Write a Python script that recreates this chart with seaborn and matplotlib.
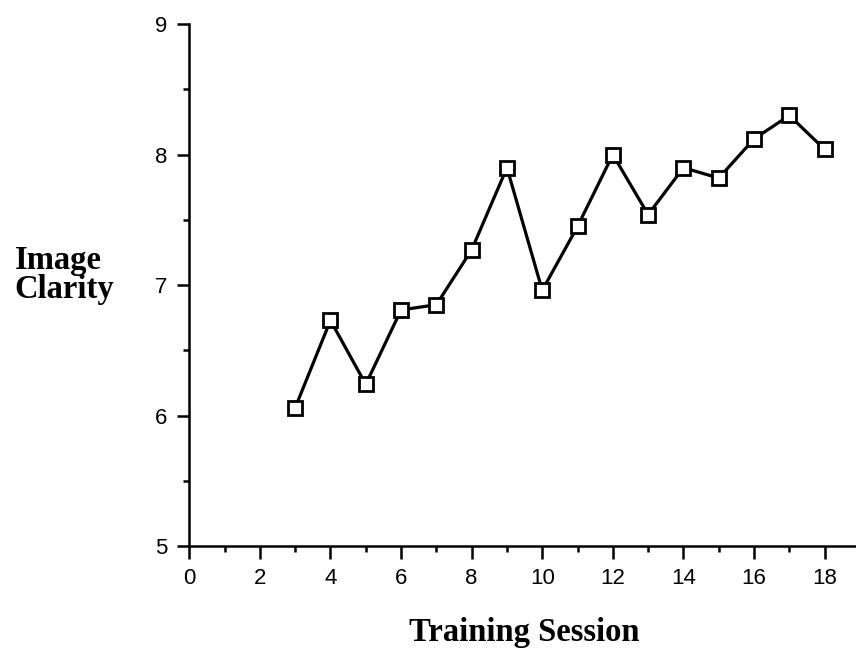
import matplotlib
matplotlib.use("Agg")
import matplotlib.pyplot as plt
import seaborn as sns
import pandas as pd
from matplotlib.ticker import MultipleLocator

# values
sessions = [3, 4, 5, 6, 7, 8, 9, 10, 11, 12, 13, 14, 15, 16, 17, 18]
clarity = [6.06, 6.73, 6.24, 6.81, 6.85, 7.27, 7.90, 6.96, 7.45, 8.00,
           7.54, 7.90, 7.82, 8.12, 8.30, 8.04]

df = pd.DataFrame({"Session": sessions, "Clarity": clarity})

sns.set_theme(style="ticks")
plt.rcParams["font.family"] = ["Liberation Sans", "DejaVu Sans"]
plt.rcParams["text.color"] = "black"
plt.rcParams["axes.labelcolor"] = "black"

fig = plt.figure(figsize=(8.56, 6.51), dpi=100)
ax = fig.add_axes([0.2211, 0.161, 0.7835, 0.802])

sns.lineplot(data=df, x="Session", y="Clarity", ax=ax, color="black",
             linewidth=2.3, marker="s", markersize=10, markerfacecolor="white",
             markeredgecolor="black", markeredgewidth=2.0)

ax.set_xlim(0, 19)
ax.set_ylim(5, 9)
ax.xaxis.set_major_locator(MultipleLocator(2))
ax.xaxis.set_minor_locator(MultipleLocator(1))
ax.yaxis.set_major_locator(MultipleLocator(1))
ax.yaxis.set_minor_locator(MultipleLocator(0.5))
ax.set_xticks(range(0, 19, 2))

for s in ["top", "right"]:
    ax.spines[s].set_visible(False)
for s in ["left", "bottom"]:
    ax.spines[s].set_linewidth(1.8)
    ax.spines[s].set_color("black")

ax.tick_params(which="major", length=9, width=1.8, color="black",
               labelsize=16, pad=7, labelcolor="black")
ax.tick_params(which="minor", length=4.5, width=1.8, color="black")

serif = {"family": ["Liberation Serif", "DejaVu Serif"], "weight": "bold", "size": 23.5}
ax.set_xlabel("Training Session", fontdict=serif, labelpad=20)
ax.set_ylabel("")
fig.text(0.017, 0.578, "Image\nClarity", ha="left", va="center",
         linespacing=0.92, **serif)

fig.savefig("out.png", dpi=100)
